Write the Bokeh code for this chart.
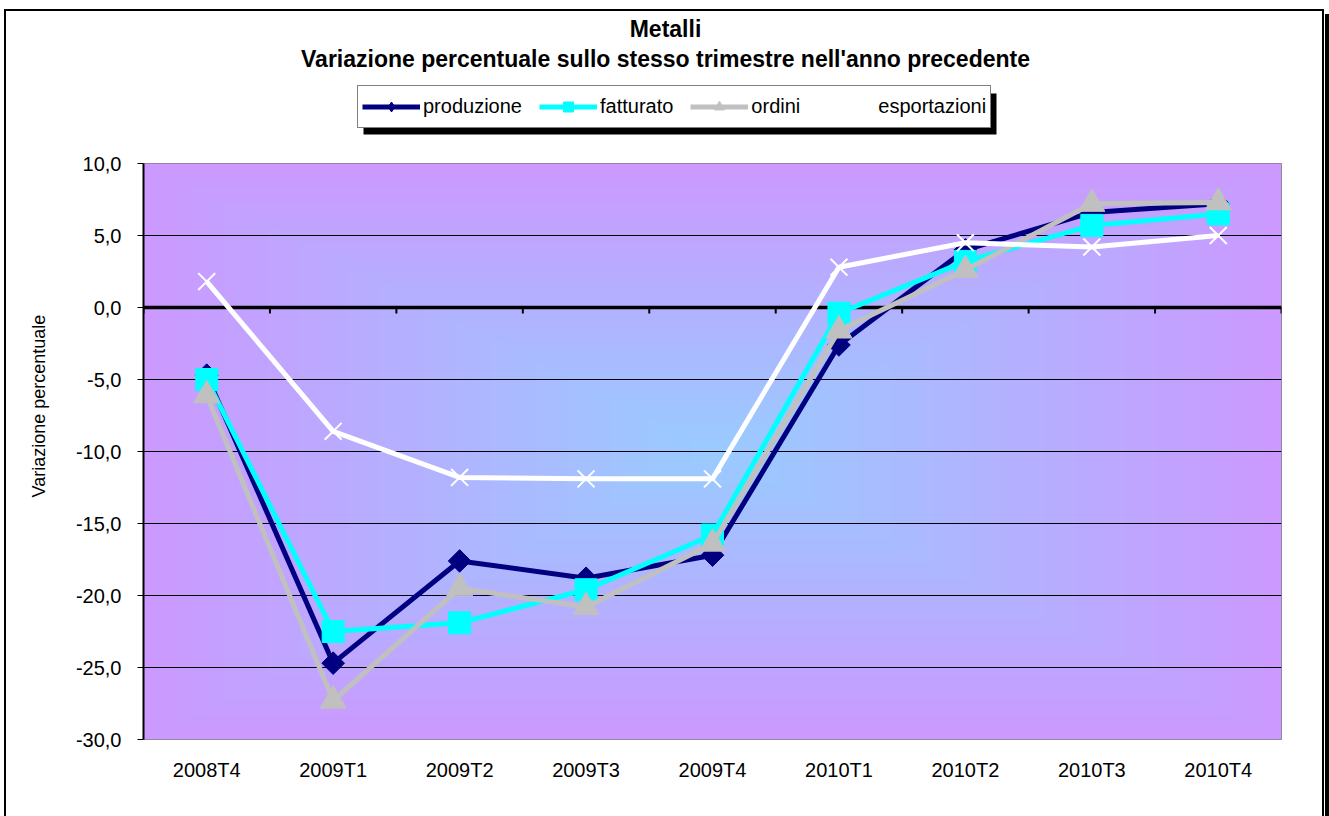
import numpy as np
from bokeh.plotting import figure
from bokeh.layouts import column
from bokeh.models import (FactorRange, Range1d, FixedTicker, Legend, LegendItem,
                          Label, BoxAnnotation, Title)
from bokeh.embed import file_html
from bokeh.resources import INLINE

# ---------------- data ----------------
categories = ["2008T4", "2009T1", "2009T2", "2009T3", "2009T4",
              "2010T1", "2010T2", "2010T3", "2010T4"]
produzione = [-4.7, -24.7, -17.6, -18.8, -17.2, -2.6, 4.0, 6.6, 7.2]
fatturato = [-5.0, -22.5, -21.9, -19.6, -15.8, -0.4, 3.2, 5.7, 6.5]
ordini = [-6.1, -27.3, -19.5, -20.8, -16.4, -1.6, 2.6, 7.2, 7.3]
esportazioni = [1.8, -8.6, -11.8, -11.9, -11.9, 2.8, 4.5, 4.2, 5.0]

series_names = ["produzione", "fatturato", "ordini", "esportazioni"]
y_tick_values = [-30, -25, -20, -15, -10, -5, 0, 5, 10]
y_tick_labels = ["-30,0", "-25,0", "-20,0", "-15,0", "-10,0", "-5,0", "0,0", "5,0", "10,0"]
title_line1 = "Metalli"
title_line2 = "Variazione percentuale sullo stesso trimestre nell'anno precedente"
y_axis_title = "Variazione percentuale"

# ---------------- layout constants ----------------
PW, PH = 1329, 816
TOP_H = 150                                   # height of the header figure
FL, FR, FT, FB = 143, 1281, 163, 739          # plot-area edges on the page
YMIN, YMAX = -30, 10
NCAT = len(categories)
FONT = "Liberation Sans"
NAVY, CYAN, GREY, WHITE = "#000080", "#00FFFF", "#C0C0C0", "#FFFFFF"

# ---------------- header (titles + legend) ----------------
# header frame is aligned with the chart frame; its x data units are page pixels
top = figure(width=PW, height=TOP_H, x_range=Range1d(FL, FR), y_range=Range1d(TOP_H, 0),
             output_backend="svg", toolbar_location=None, title=None,
             x_axis_location=None, y_axis_location=None,
             min_border_left=FL, min_border_right=PW - FR,
             min_border_top=0, min_border_bottom=0)
top.border_fill_color = None
top.background_fill_color = None
top.outline_line_color = None
top.grid.visible = False

for txt, yy in [(title_line1, 28), (title_line2, 58)]:
    top.add_layout(Label(x=665, y=yy, text=txt, text_align="center",
                         text_baseline="middle", text_font=FONT,
                         text_font_size="23px", text_font_style="bold",
                         text_color="black"))

# off-screen renderers that carry the legend styles
hid_x, hid_y = [FL - 500], [-1000]
l1 = top.line(x=hid_x, y=hid_y, line_color=NAVY, line_width=5)
m1 = top.scatter(x=hid_x, y=hid_y, marker="diamond", size=10,
                 fill_color=NAVY, line_color=NAVY)
l2 = top.line(x=hid_x, y=hid_y, line_color=CYAN, line_width=5)
m2 = top.scatter(x=hid_x, y=hid_y, marker="square", size=10, fill_color=CYAN, line_color=CYAN)
l3 = top.line(x=hid_x, y=hid_y, line_color=GREY, line_width=5)
m3 = top.scatter(x=hid_x, y=hid_y, marker="triangle", size=10, fill_color=GREY, line_color=GREY)
l4 = top.line(x=hid_x, y=hid_y, line_color=WHITE, line_width=5)
m4 = top.scatter(x=hid_x, y=hid_y, marker="x", size=10, line_color=WHITE, line_width=2)

top.add_layout(BoxAnnotation(left=363, right=996, top=93, bottom=134,
                             fill_color="black", fill_alpha=1, line_color=None))
legend = Legend(items=[LegendItem(label=series_names[0], renderers=[l1, m1]),
                       LegendItem(label=series_names[1], renderers=[l2, m2]),
                       LegendItem(label=series_names[2], renderers=[l3, m3]),
                       LegendItem(label=series_names[3], renderers=[l4, m4])],
                orientation="horizontal", location=(357 - FL, TOP_H - 128),
                glyph_width=58, glyph_height=25, label_height=33,
                label_standoff=3, spacing=17, padding=4, margin=0,
                border_line_color="black", border_line_width=1,
                background_fill_color="white", background_fill_alpha=1,
                label_text_font=FONT, label_text_font_size="20px",
                label_text_color="black")
top.add_layout(legend)

# ---------------- main chart ----------------
MH = PH - TOP_H
p = figure(width=PW, height=MH,
           x_range=FactorRange(factors=categories, range_padding=0),
           y_range=Range1d(YMIN, YMAX),
           output_backend="svg", toolbar_location=None, title=None,
           min_border_left=FL, min_border_right=PW - FR,
           min_border_top=FT - TOP_H, min_border_bottom=MH - (FB - TOP_H))
p.border_fill_color = None
p.outline_line_color = "#808080"
p.outline_line_width = 1

# gradient plot area (from centre: light blue -> lilac)
gw, gh = 285, 144
u = np.abs(np.linspace(-1, 1, gw))[None, :]
v = np.abs(np.linspace(-1, 1, gh))[:, None]
t = np.maximum(u, v)
c_center = np.array([153, 204, 255])
c_edge = np.array([204, 153, 255])
img = np.empty((gh, gw), dtype=np.uint32)
view = img.view(dtype=np.uint8).reshape((gh, gw, 4))
for k in range(3):
    view[:, :, k] = (c_center[k] * (1 - t) + c_edge[k] * t).astype(np.uint8)
view[:, :, 3] = 255
p.image_rgba(image=[img], x=0, y=YMIN, dw=NCAT, dh=YMAX - YMIN, level="image")

p.xgrid.visible = False
p.ygrid.grid_line_color = "black"
p.ygrid.grid_line_width = 1

p.yaxis.ticker = FixedTicker(ticks=y_tick_values)
p.yaxis.major_label_overrides = {v_: l_ for v_, l_ in zip(y_tick_values, y_tick_labels)}
p.yaxis.axis_line_color = "black"
p.yaxis.axis_line_width = 2
p.yaxis.major_tick_in = 0
p.yaxis.major_tick_out = 6
p.yaxis.major_tick_line_color = "black"
p.yaxis.minor_tick_line_color = None
p.yaxis.major_label_standoff = 16
p.yaxis.major_label_text_font = FONT
p.yaxis.major_label_text_font_size = "20px"
p.yaxis.major_label_text_color = "black"

# axis title: starts 242 px above the bottom of the plot area, as in the reference
p.add_layout(Title(text=y_axis_title, align="left", offset=242, standoff=48,
                   text_font=FONT, text_font_size="18px", text_font_style="normal",
                   text_color="black"), "left")

p.xaxis.axis_line_color = None
p.xaxis.major_tick_line_color = None
p.xaxis.major_tick_out = 0
p.xaxis.minor_tick_line_color = None
p.xaxis.major_label_standoff = 19
p.xaxis.major_label_text_font = FONT
p.xaxis.major_label_text_font_size = "20px"
p.xaxis.major_label_text_color = "black"

# zero line with ticks at category boundaries
bounds = list(range(NCAT + 1))
tick_len = 6 * (YMAX - YMIN) / (FB - FT)
p.line(x=[0, NCAT], y=[0, 0], line_color="black", line_width=3.5)
p.segment(x0=bounds, y0=[0] * len(bounds), x1=bounds, y1=[-tick_len] * len(bounds),
          line_color="black", line_width=2)

# series (drawn in Excel order: later ones on top)
p.line(categories, produzione, line_color=NAVY, line_width=5)
p.scatter(categories, produzione, marker="square", angle=np.pi / 4, size=16,
          fill_color=NAVY, line_color=NAVY)
p.line(categories, fatturato, line_color=CYAN, line_width=5)
p.scatter(categories, fatturato, marker="square", size=22, fill_color=CYAN, line_color=CYAN)
p.line(categories, ordini, line_color=GREY, line_width=5)
p.scatter(categories, ordini, marker="triangle", size=26, fill_color=GREY, line_color=GREY)
p.line(categories, esportazioni, line_color=WHITE, line_width=5)
p.scatter(categories, esportazioni, marker="x", size=24, line_color=WHITE, line_width=2)

# ---------------- page: chart frame with shadow ----------------
frame_css = ("linear-gradient(#000,#000) 4px 9px / 2px 820px no-repeat, "
             "linear-gradient(#000,#000) 4px 9px / 1320px 2px no-repeat, "
             "linear-gradient(#000,#000) 1322px 9px / 2px 820px no-repeat, "
             "linear-gradient(#000,#000) 1325px 14px / 4px 820px no-repeat, #ffffff")
page = column(top, p, spacing=0, styles={"background": frame_css})

open("out.html", "w").write(file_html(page, INLINE))
